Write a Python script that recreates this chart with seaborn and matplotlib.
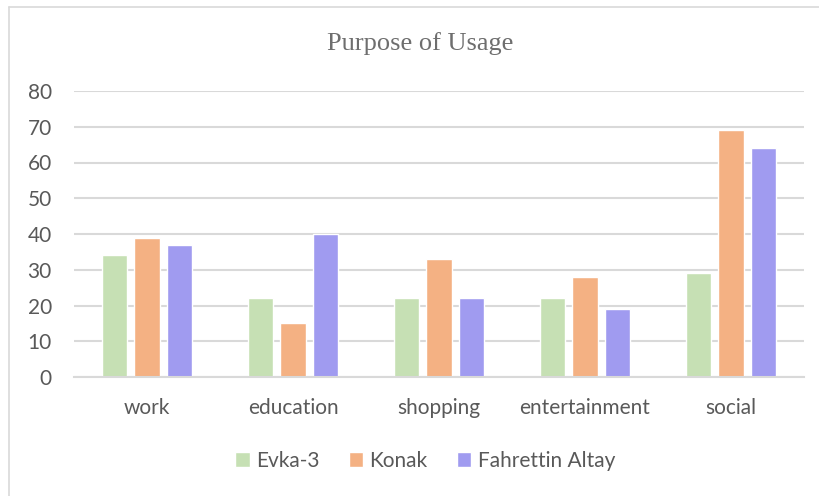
import matplotlib
matplotlib.use('Agg')
import pandas as pd
import matplotlib.pyplot as plt
import seaborn as sns
from matplotlib.lines import Line2D

# 数据
categories = ['work', 'education', 'shopping', 'entertainment', 'social']
series_names = ['Evka-3', 'Konak', 'Fahrettin Altay']
evka3 = [34, 22, 22, 22, 29]
konak = [39, 15, 33, 28, 69]
fahrettin_altay = [37, 40, 22, 19, 64]
y_ticks = [0, 10, 20, 30, 40, 50, 60, 70, 80]

colors = ['#c6e0b4', '#f4b183', '#a09bf0']
text_gray = '#595959'
grid_gray = '#d9d9d9'

df = pd.DataFrame({
    'category': categories * 3,
    'series': [s for s in series_names for _ in categories],
    'value': evka3 + konak + fahrettin_altay,
})

sns.set_style('white')
plt.rcParams['font.family'] = ['Lato', 'DejaVu Sans']

fig = plt.figure(figsize=(8.2, 4.96), dpi=100)
ax = fig.add_axes([74 / 820, 1 - 377 / 496, 730 / 820, 286 / 496])

sns.barplot(data=df, x='category', y='value', hue='series', order=categories,
            hue_order=series_names, palette=colors, width=0.67, gap=0.22,
            saturation=1, ax=ax, legend=True)

ax.set_ylim(0, 80)
ax.set_yticks(y_ticks)
ax.yaxis.grid(True, color=grid_gray, linewidth=1.5)
ax.set_axisbelow(True)
ax.set_xlabel('')
ax.set_ylabel('')
for s in ['top', 'right', 'left']:
    ax.spines[s].set_visible(False)
ax.spines['bottom'].set_color(grid_gray)
ax.spines['bottom'].set_linewidth(1.5)
ax.tick_params(axis='both', length=0, labelsize=15, colors=text_gray)
ax.tick_params(axis='x', pad=15)
ax.tick_params(axis='y', pad=16)

# 标题
fig.text(420 / 820, 1 - 44 / 496, 'Purpose of Usage', fontsize=19, color='#6e6e6e',
         family='Liberation Serif', ha='center', va='center')

# 图例
leg = fig.legend(*ax.get_legend_handles_labels(), loc='center',
                 bbox_to_anchor=(425 / 820, 1 - 461 / 496),
                 ncol=3, frameon=False, fontsize=15, handlelength=0.7,
                 handleheight=0.7, handletextpad=0.3, columnspacing=1.4)
ax.get_legend().remove()
for t in leg.get_texts():
    t.set_color(text_gray)

# 外框（左、上）
fig.add_artist(Line2D([9 / 820, 9 / 820], [0, 1 - 7 / 496], color='#d9d9d9', linewidth=1.2))
fig.add_artist(Line2D([9 / 820, 1], [1 - 7 / 496, 1 - 7 / 496], color='#d9d9d9', linewidth=1.2))

fig.savefig('out.png', dpi=100)
